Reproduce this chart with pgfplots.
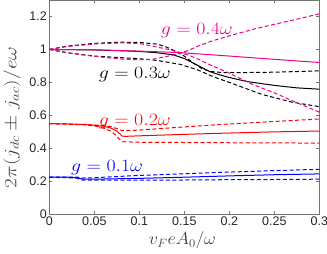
\documentclass[border=0pt]{standalone}
\usepackage{fontspec}
\setmainfont{Liberation Sans}
\usepackage{graphicx}
\usepackage{pgfplots}
\pgfplotsset{compat=1.18}
\begin{document}
\begin{tikzpicture}
\begin{axis}[
  scale only axis,
  width=270pt, height=214.3pt,
  xmin=0, xmax=0.3, ymin=0, ymax=1.3,
  xtick={0,0.05,0.1,0.15,0.2,0.25,0.3},
  ytick={0,0.2,0.4,0.6,0.8,1,1.2},
  yticklabels={0,0.2,0.4,0.6,0.8,1,1.2},
  xticklabels={0,0.05,0.1,0.15,0.2,0.25,0.3},
  tick align=inside,
  major tick length=3pt,
  axis line style={black!55},
  tick style={black!55},
  tick label style={font=\fontsize{12.5}{14}\selectfont, text=black!85},
  xticklabel style={yshift=1pt},
  yticklabel style={xshift=1pt},
  xlabel={\scalebox{1.05}[1]{$v_F e A_0/\omega$}},
  ylabel={\scalebox{1.22}[1]{$2\pi(j_{dc}\pm j_{ac})/e\omega$}},
  label style={text=black!75},
  xlabel style={font=\fontsize{17}{20}\selectfont, at={(axis description cs:0.493,-0.121)}, anchor=center},
  ylabel style={font=\fontsize{18}{21}\selectfont, at={(axis description cs:-0.138,0.452)}, anchor=center},
  every axis plot/.append style={line width=1pt},
  clip=true,
]
% g = 0.1
\addplot[blue, solid] coordinates {(0,0.225)(0.02,0.225)(0.03,0.222)(0.037,0.214)(0.05,0.213)(0.1,0.218)(0.15,0.225)(0.2,0.233)(0.25,0.240)(0.3,0.245)};
\addplot[blue, dash pattern=on 4pt off 2.5pt] coordinates {(0,0.225)(0.03,0.226)(0.037,0.220)(0.05,0.222)(0.1,0.236)(0.15,0.246)(0.2,0.256)(0.25,0.265)(0.3,0.273)};
\addplot[blue, dash pattern=on 4pt off 2.5pt] coordinates {(0,0.225)(0.03,0.220)(0.037,0.208)(0.05,0.207)(0.1,0.207)(0.15,0.208)(0.2,0.210)(0.25,0.211)(0.3,0.213)};
% g = 0.2
\addplot[red, solid] coordinates {(0,0.550)(0.02,0.548)(0.04,0.544)(0.05,0.540)(0.06,0.534)(0.068,0.524)(0.074,0.508)(0.078,0.490)(0.081,0.474)(0.085,0.473)(0.1,0.476)(0.15,0.485)(0.2,0.493)(0.25,0.500)(0.3,0.505)};
\addplot[red, dash pattern=on 4pt off 2.5pt] coordinates {(0,0.550)(0.04,0.545)(0.057,0.540)(0.068,0.532)(0.075,0.520)(0.081,0.507)(0.09,0.508)(0.1,0.511)(0.15,0.530)(0.2,0.548)(0.25,0.563)(0.3,0.578)};
\addplot[red, dash pattern=on 4pt off 2.5pt] coordinates {(0,0.550)(0.04,0.543)(0.057,0.530)(0.068,0.505)(0.074,0.480)(0.078,0.455)(0.082,0.440)(0.1,0.437)(0.2,0.434)(0.3,0.432)};
% g = 0.3
\addplot[black, solid] coordinates {(0,1.0)(0.05,0.997)(0.08,0.992)(0.1,0.988)(0.12,0.980)(0.138,0.967)(0.15,0.945)(0.164,0.906)(0.178,0.866)(0.19,0.845)(0.2,0.830)(0.22,0.805)(0.25,0.782)(0.275,0.767)(0.3,0.759)};
\addplot[black, dash pattern=on 4pt off 2.5pt] coordinates {(0,1.0)(0.02,1.020)(0.05,1.037)(0.08,1.044)(0.1,1.043)(0.12,1.032)(0.13,1.015)(0.14,0.990)(0.15,0.960)(0.16,0.918)(0.17,0.882)(0.18,0.866)(0.19,0.861)(0.2,0.859)(0.25,0.862)(0.3,0.870)};
\addplot[black, dash pattern=on 4pt off 2.5pt] coordinates {(0,1.0)(0.02,0.980)(0.05,0.960)(0.08,0.950)(0.1,0.944)(0.12,0.933)(0.145,0.910)(0.164,0.878)(0.182,0.835)(0.2,0.800)(0.237,0.726)(0.27,0.680)(0.3,0.653)};
% g = 0.4
\addplot[magenta, solid] coordinates {(0,1.0)(0.05,0.998)(0.1,0.990)(0.145,0.981)(0.2,0.960)(0.25,0.940)(0.3,0.921)};
\addplot[magenta, dash pattern=on 4pt off 2.5pt] coordinates {(0,1.0)(0.02,1.018)(0.05,1.033)(0.08,1.040)(0.1,1.036)(0.115,1.020)(0.13,1.003)(0.147,0.980)(0.155,0.995)(0.165,1.020)(0.18,1.050)(0.204,1.089)(0.23,1.127)(0.256,1.160)(0.28,1.190)(0.3,1.216)};
\addplot[magenta, dash pattern=on 4pt off 2.5pt] coordinates {(0,1.0)(0.02,0.980)(0.05,0.958)(0.08,0.942)(0.1,0.937)(0.115,0.941)(0.13,0.957)(0.147,0.978)(0.155,0.965)(0.167,0.937)(0.18,0.903)(0.2,0.856)(0.225,0.790)(0.25,0.737)(0.275,0.677)(0.3,0.620)};
% labels
\node[magenta, font=\fontsize{16}{18}\selectfont] at (axis cs:0.164,1.115) {\scalebox{1.15}[1]{$g=0.4\omega$}};
\node[black, font=\fontsize{16}{18}\selectfont] at (axis cs:0.095,0.846) {\scalebox{1.15}[1]{$g=0.3\omega$}};
\node[red, font=\fontsize{16}{18}\selectfont] at (axis cs:0.095,0.562) {\scalebox{1.15}[1]{$g=0.2\omega$}};
\node[blue, font=\fontsize{16}{18}\selectfont] at (axis cs:0.0642,0.281) {\scalebox{1.15}[1]{$g=0.1\omega$}};
\end{axis}
\pgfresetboundingbox
\path[use as bounding box] (-49.3pt,-39.7pt) rectangle (277.7pt,214.3pt);
\end{tikzpicture}
\end{document}
